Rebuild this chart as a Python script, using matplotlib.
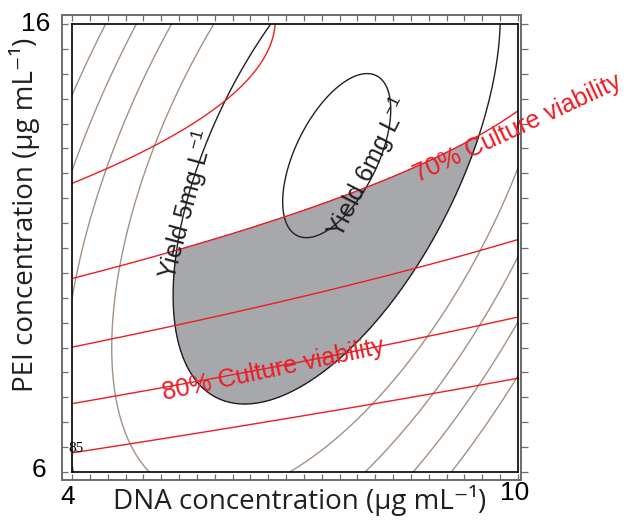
import numpy as np
import matplotlib
matplotlib.use("Agg")
import matplotlib.pyplot as plt

plt.rcParams['mathtext.fontset'] = 'custom'
plt.rcParams['mathtext.rm'] = 'Liberation Sans'
plt.rcParams['mathtext.default'] = 'regular'

# points: (DNA, PEI) in ug/mL
yield6 = [(7.97, 14.91), (8.14, 14.82), (8.25, 14.59), (8.28, 14.24), (7.34, 14.15),
          (7.03, 13.19), (6.84, 12.30), (6.83, 11.69), (6.93, 11.36), (7.11, 11.18), (7.43, 11.29)]
yield5 = [(6.66, 16.0), (6.19, 14.75), (6.03, 14.24), (5.79, 13.19), (5.35, 10.06), (5.39, 8.95),
          (5.55, 8.43), (5.86, 7.83), (6.30, 7.50), (6.70, 7.56), (7.34, 8.21), (7.97, 9.17),
          (8.61, 10.51), (9.06, 11.85), (9.45, 13.48), (9.62, 14.53), (9.76, 16.0)]
yield4 = [(5.90, 16.0), (4.94, 12.52), (4.51, 8.95), (4.62, 7.67), (5.02, 6.0), (6.96, 6.0),
          (8.01, 7.50), (8.78, 9.01), (9.49, 10.91), (9.76, 11.85), (10.0, 12.85)]
yield3 = [(5.35, 16.0), (4.42, 12.52), (4.0, 9.88), (7.94, 6.0), (8.84, 7.76), (9.40, 9.17), (10.0, 10.62)]
yield2 = [(4.87, 16.0), (4.0, 12.70), (8.59, 6.0), (9.45, 7.90), (9.96, 9.17)]
yield1 = [(4.44, 16.0), (4.0, 14.37), (9.11, 6.0), (10.0, 8.17)]

via85 = [(4.0, 6.43), (6.73, 7.14), (9.18, 7.85), (10.0, 8.08)]
via80 = [(4.0, 7.52), (6.80, 8.43), (8.41, 8.88), (8.78, 9.06), (10.0, 9.46)]
via75 = [(4.0, 8.79), (5.18, 9.17), (6.80, 9.77), (8.41, 10.44), (8.59, 10.53), (10.0, 11.18)]
via70 = [(4.0, 10.33), (4.65, 10.58), (6.66, 11.58), (6.80, 11.66), (7.97, 12.36), (8.21, 12.56), (10.0, 14.08)]
via65 = [(4.0, 12.45), (4.44, 12.79), (5.05, 13.23), (6.03, 14.25), (6.37, 14.75),
         (6.60, 15.20), (6.73, 15.98)]

yield_levels = [1, 2, 3, 4, 5, 6]
via_levels = [65, 70, 75, 80, 85]


def fit_quadratic(groups, levels):
    rows, z = [], []
    for pts, lev in zip(groups, levels):
        for x, y in pts:
            rows.append([1, x, y, x * x, y * y, x * y])
            z.append(lev)
    coef, *_ = np.linalg.lstsq(np.array(rows), np.array(z, dtype=float), rcond=None)
    return coef


def surface(coef, X, Y):
    return (coef[0] + coef[1] * X + coef[2] * Y + coef[3] * X ** 2
            + coef[4] * Y ** 2 + coef[5] * X * Y)


cy = fit_quadratic([yield1, yield2, yield3, yield4, yield5, yield6], yield_levels)
cv = fit_quadratic([via65, via70, via75, via80, via85], via_levels)

X, Y = np.meshgrid(np.linspace(4, 10, 400), np.linspace(6, 16, 400))
Zy = surface(cy, X, Y)
Zv = surface(cv, X, Y)

W, H = 629, 522
fig = plt.figure(figsize=(W / 100, H / 100), dpi=100)

# pixel layout of inner (black) and outer (grey) frames
il, ir, it, ib = 72, 518, 24, 472
ol, orr, ot, ob = 62, 521, 15, 480
sx = (ir - il) / 6.0
sy = (ib - it) / 10.0
grey = '#6d6e71'

frame = fig.add_axes([ol / W, 1 - ob / H, (orr - ol) / W, (ob - ot) / H])
frame.set_xlim(4 - (il - ol) / sx, 10 + (orr - ir) / sx)
frame.set_ylim(6 - (ob - ib) / sy, 16 + (it - ot) / sy)
for s in frame.spines.values():
    s.set_color(grey)
    s.set_linewidth(1.3)
frame.set_xticks(np.linspace(4, 10, 26))
frame.set_yticks(np.linspace(6, 16, 19))
frame.tick_params(direction='in', length=4.5, width=0.9, color=grey,
                  top=True, right=False, labelbottom=False, labelleft=False)
rframe = frame.twinx()
rframe.set_ylim(frame.get_ylim())
rframe.set_yticks(np.linspace(6, 16, 19))
rframe.tick_params(direction='out', length=5, width=0.9, color=grey, labelright=False)
for s in rframe.spines.values():
    s.set_color(grey)
    s.set_linewidth(1.3)

ax = fig.add_axes([il / W, 1 - ib / H, (ir - il) / W, (ib - it) / H])
ax.set_xlim(4, 10)
ax.set_ylim(6, 16)
ax.set_xticks([])
ax.set_yticks([])
for s in ax.spines.values():
    s.set_color('black')
    s.set_linewidth(1.2)

F = np.minimum(Zy - 5, Zv - 70)
ax.contourf(X, Y, F, levels=[0, F.max() + 1], colors=['#a7a8ab'])
ax.contour(X, Y, Zy, levels=[1, 2, 3, 4], colors='#a39183', linewidths=1.0)
ax.contour(X, Y, Zy, levels=[5, 6], colors='#231f20', linewidths=1.0)
ax.contour(X, Y, Zv, levels=via_levels, colors='#ed1c24', linewidths=1.0)

lab = dict(family='Liberation Sans', fontsize=18, ha='center', va='center',
           rotation_mode='anchor', clip_on=False)
ax.text(5.54, 11.96, 'Yield 5mg L$^{-1}$', rotation=75, color='#231f20', **lab)
ax.text(7.99, 12.79, 'Yield 6mg L$^{-1}$', rotation=63, color='#231f20', **lab)
ax.text(9.99, 13.68, '70% Culture viability', rotation=25, color='#ed1c24', **lab)
ax.text(6.71, 8.28, '80% Culture viability', rotation=12, color='#ed1c24', **lab)
ax.text(3.95, 6.52, '85', family='Liberation Serif', fontsize=11, ha='left', va='center')

tick = dict(family='Liberation Sans', fontsize=19, va='center')
fig.text(68 / W, 1 - 497 / H, '4', ha='center', **tick)
fig.text(515 / W, 1 - 493 / H, '10', ha='center', **tick)
fig.text(50 / W, 1 - 24 / H, '16', ha='right', **tick)
fig.text(46 / W, 1 - 470 / H, '6', ha='right', **tick)

axl = dict(family=['Open Sans', 'DejaVu Sans'], fontsize=20, color='#231f20')
fig.text(300 / W, 1 - 500 / H, 'DNA concentration (\u00b5g mL\u207b\u00b9)',
         ha='center', va='center', **axl)
fig.text(25 / W, 1 - 215 / H, 'PEI concentration (\u00b5g mL\u207b\u00b9)',
         ha='center', va='center', rotation=90, **axl)

fig.savefig('out.png', dpi=100)
